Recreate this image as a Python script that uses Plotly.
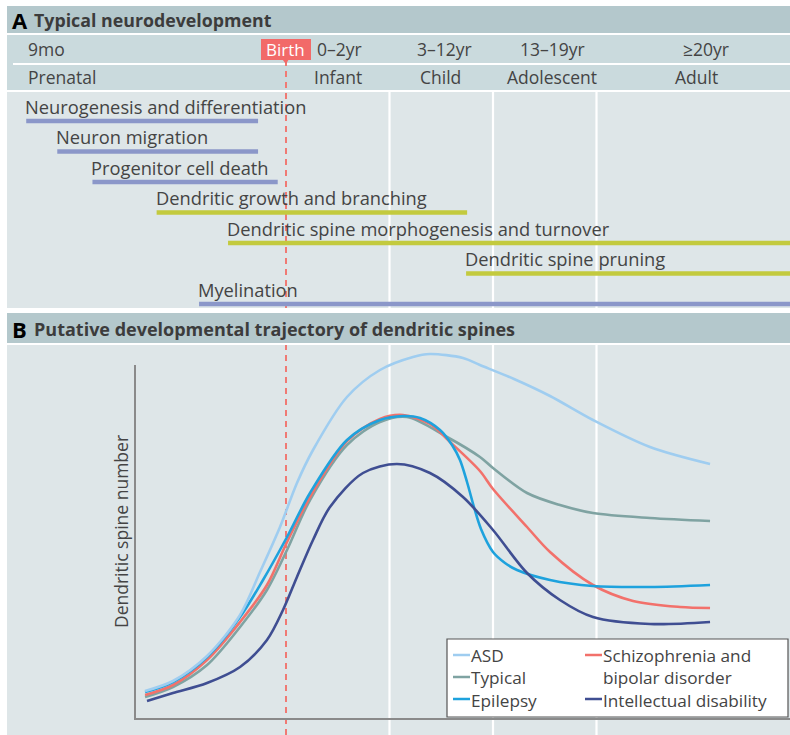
import plotly.graph_objects as go

W, H = 790, 735
def px(x): return x / W
def py(y): return 1 - y / H

FONT = "Open Sans"
TXT = "#444444"

# ---------------- data ----------------
# x unit: developmental stage units (birth = 0, stage boundaries at 1, 2, 3)
stage_ages = ["9mo", "0–2yr", "3–12yr", "13–19yr", "≥20yr"]
stage_age_x = [-2.51, 0.28, 1.53, 2.57, 4.06]
stage_names = ["Prenatal", "Infant", "Child", "Adolescent", "Adult"]
stage_name_x = [-2.51, 0.25, 1.49, 2.57, 3.97]
stage_anchor = ["left", "left", "center", "center", "center"]
stage_boundaries = [1, 2, 3]
birth = 0

processes = ["Neurogenesis and differentiation", "Neuron migration", "Progenitor cell death",
             "Dendritic growth and branching", "Dendritic spine morphogenesis and turnover",
             "Dendritic spine pruning", "Myelination"]
process_start = [-2.51, -2.21, -1.87, -1.25, -0.56, 1.74, -0.84]
process_end = [-0.27, -0.27, -0.08, 1.75, 4.9, 4.9, 4.9]
process_group = ["cell", "cell", "cell", "dendrite", "dendrite", "dendrite", "cell"]

typical_x = [-1.362, -1.092, -0.763, -0.444, -0.184, 0.010, 0.232, 0.589, 0.908, 1.169, 1.556, 1.874, 2.0, 2.329, 2.647, 2.966, 3.517, 4.097]
typical_y = [21, 31, 53, 91, 128, 168, 218, 273, 296, 301, 281, 261, 250, 225, 213, 205, 200, 197]

epilepsy_x = [-1.362, -1.092, -0.763, -0.444, -0.222, 0.010, 0.232, 0.589, 0.908, 1.130, 1.295, 1.488, 1.604, 1.681, 1.749, 1.816, 1.884, 2.0, 2.116, 2.232, 2.551, 2.966, 3.517, 4.097]
epilepsy_y = [26, 36, 61, 101, 138, 181, 225, 278, 298, 302, 300, 288, 273, 258, 236, 211, 189, 166, 155, 148, 138, 132, 131, 133]

scz_x = [-1.362, -1.092, -0.763, -0.444, -0.184, 0.010, 0.232, 0.589, 0.908, 1.130, 1.391, 1.585, 1.874, 2.0, 2.329, 2.551, 2.966, 3.353, 3.807, 4.097]
scz_y = [23, 33, 58, 96, 133, 176, 221, 277, 299, 303, 294, 276, 247, 229, 191, 166, 133, 117, 111, 110]

asd_x = [-1.362, -1.092, -0.763, -0.444, -0.251, -0.058, 0.106, 0.261, 0.589, 0.908, 1.227, 1.391, 1.710, 1.874, 2.203, 2.551, 2.966, 3.517, 4.097]
asd_y = [27, 37, 62, 103, 146, 191, 235, 268, 321, 348, 361, 364, 360, 353, 339, 322, 298, 271, 254]

id_x = [-1.343, -1.092, -0.763, -0.444, -0.184, -0.029, 0.106, 0.261, 0.425, 0.744, 1.072, 1.391, 1.710, 2.0, 2.329, 2.647, 2.966, 3.517, 4.097]
id_y = [17, 25, 35, 51, 78, 108, 141, 178, 211, 245, 254, 245, 221, 188, 145, 118, 101, 94, 96]

# ---------------- styles ----------------
C_HEAD = "#b4c8cc"
C_ROW = "#cadadd"
C_BODY = "#dee6e8"
C_CELL = "#8b97c9"
C_DEND = "#c3ca3e"
C_BIRTH = "#f07a74"
group_color = {"cell": C_CELL, "dendrite": C_DEND}

series = [
    ("Typical", typical_x, typical_y, "#7fa3a2"),
    ("Schizophrenia and bipolar disorder", scz_x, scz_y, "#f2716b"),
    ("Epilepsy", epilepsy_x, epilepsy_y, "#1ea2dd"),
    ("ASD", asd_x, asd_y, "#9fcdf0"),
    ("Intellectual disability", id_x, id_y, "#3f4e92"),
]

fig = go.Figure()

# panel A process bars (x / y axes)
for i, (name, s, e, g) in enumerate(zip(processes, process_start, process_end, process_group)):
    row = i + 1
    fig.add_trace(go.Scatter(x=[s, e], y=[row, row], mode="lines", xaxis="x", yaxis="y",
                             line=dict(color=group_color[g], width=4.5), showlegend=False,
                             hoverinfo="skip"))

# panel B curves (x2 / y2 axes)
for name, xs, ys, col in series:
    fig.add_trace(go.Scatter(x=xs, y=ys, mode="lines", name=name, xaxis="x2", yaxis="y2",
                             line=dict(color=col, width=2.6, shape="spline", smoothing=0.9),
                             showlegend=False))

shapes = []
def rect(x0, y0, x1, y1, color, layer="below", line=None):
    shapes.append(dict(type="rect", xref="paper", yref="paper", x0=px(x0), x1=px(x1),
                       y0=py(y1), y1=py(y0), fillcolor=color, layer=layer,
                       line=line or dict(width=0)))

# panel A backgrounds
rect(7, 6, 790, 33, C_HEAD)
rect(7, 35, 790, 90, C_ROW)
rect(13, 63, 790, 65, "white")
rect(7, 92, 790, 308, C_BODY)
# panel B backgrounds
rect(7, 313, 790, 343, C_HEAD)
rect(7, 345, 790, 735, C_BODY)

# stage boundaries (white lines) in both bodies
for b in stage_boundaries:
    for (y0, y1) in [(92, 308), (345, 735)]:
        shapes.append(dict(type="line", xref="x", yref="paper", x0=b, x1=b, y0=py(y1), y1=py(y0),
                           line=dict(color="white", width=2.2), layer="below"))
# birth dashed line
for (y0, y1) in [(60, 308), (345, 735)]:
    shapes.append(dict(type="line", xref="x", yref="paper", x0=birth, x1=birth, y0=py(y1), y1=py(y0),
                       line=dict(color=C_BIRTH, width=2, dash="6px,5px"), layer="below"))

# birth label
rect(261, 39, 311, 60, "#f26a69", layer="above")
shapes.append(dict(type="path", xref="paper", yref="paper", layer="above",
                   path=f"M {px(282)} {py(59)} L {px(289)} {py(59)} L {px(286)} {py(64)} Z",
                   fillcolor="#f26a69", line=dict(width=0)))

# y axis line of panel B
shapes.append(dict(type="line", xref="paper", yref="paper", x0=px(135), x1=px(135),
                   y0=py(719), y1=py(365), line=dict(color="#8a8a8a", width=2), layer="above"))

# legend box
rect(447, 639, 788, 717, "white", layer="above", line=dict(color="#555555", width=1.2))
leg_lines = [("#9fcdf0", 453, 655), ("#7fa3a2", 453, 677), ("#1ea2dd", 453, 699),
             ("#f2716b", 585, 655), ("#3f4e92", 585, 699)]
for col, lx, ly in leg_lines:
    shapes.append(dict(type="line", xref="paper", yref="paper", x0=px(lx), x1=px(lx + 17),
                       y0=py(ly), y1=py(ly), line=dict(color=col, width=2.5), layer="above"))

annotations = []
def text(x, y, s, size=17, color=TXT, xanchor="left", xref="paper", bold=False, family=FONT):
    annotations.append(dict(x=px(x) if xref == "paper" else x, y=py(y), xref=xref, yref="paper",
                            text=(f"<b>{s}</b>" if bold else s), showarrow=False,
                            xanchor=xanchor, yanchor="middle", align="left",
                            font=dict(size=size, color=color, family=family)))

text(469, 677.5, "ASD<br>Typical<br>Epilepsy", size=17.2)
text(601, 677.5, "Schizophrenia and<br>bipolar disorder<br>Intellectual disability", size=17.2)

# titles
text(10, 20, "A", size=22, color="black", bold=True)
text(32, 20, "Typical neurodevelopment", size=17.8, color="#3c3c3c", bold=True)
text(10, 329, "B", size=22, color="black", bold=True)
text(32, 329, "Putative developmental trajectory of dendritic spines", size=18, color="#3c3c3c", bold=True)

# stage rows
for s, xv, anc in zip(stage_ages, stage_age_x, stage_anchor):
    text(xv, 49, s, size=17.5, xanchor=anc, xref="x")
for s, xv, anc in zip(stage_names, stage_name_x, stage_anchor):
    text(xv, 77, s, size=17.5, xanchor=anc, xref="x")
text(285.5, 49.5, "Birth", size=17, color="white", xanchor="center")

# process labels
for i, (name, s) in enumerate(zip(processes, process_start)):
    annotations.append(dict(x=s, y=i + 1, xref="x", yref="y", text=name, showarrow=False,
                            xanchor="left", yanchor="middle", yshift=15, xshift=-3,
                            font=dict(size=18.3, color=TXT, family=FONT)))

# y-axis title
annotations.append(dict(x=px(121), y=py(532), xref="paper", yref="paper", text="Dendritic spine number",
                        textangle=-90, showarrow=False, xanchor="center", yanchor="middle",
                        font=dict(size=17.5, color=TXT, family=FONT)))

hidden = dict(visible=False, showgrid=False, zeroline=False, fixedrange=True)
fig.update_layout(
    width=W, height=H, margin=dict(l=0, r=0, t=0, b=0),
    paper_bgcolor="white", plot_bgcolor="rgba(0,0,0,0)",
    font=dict(family=FONT, color=TXT),
    showlegend=False,
    xaxis=dict(domain=[0, 1], range=[-286 / 103.5, (790 - 286) / 103.5], anchor="y", **hidden),
    yaxis=dict(domain=[0, 1], range=[1 + 614 / 30.5, 1 - 121 / 30.5], anchor="x", **hidden),
    xaxis2=dict(domain=[px(134), 1], range=[(134 - 286) / 103.5, (790 - 286) / 103.5], anchor="y2",
                showgrid=False, zeroline=False, showticklabels=False, ticks="",
                showline=True, linecolor="#8a8a8a", linewidth=2, fixedrange=True),
    yaxis2=dict(domain=[py(718), py(345)], range=[0, 373], anchor="x2",
                showgrid=False, zeroline=False, showticklabels=False, ticks="", showline=False,
                fixedrange=True),
    shapes=shapes, annotations=annotations,
)

fig.write_html("out.html", config={"displayModeBar": False},
               post_script="document.body.style.margin='0';document.body.style.padding='0';")
